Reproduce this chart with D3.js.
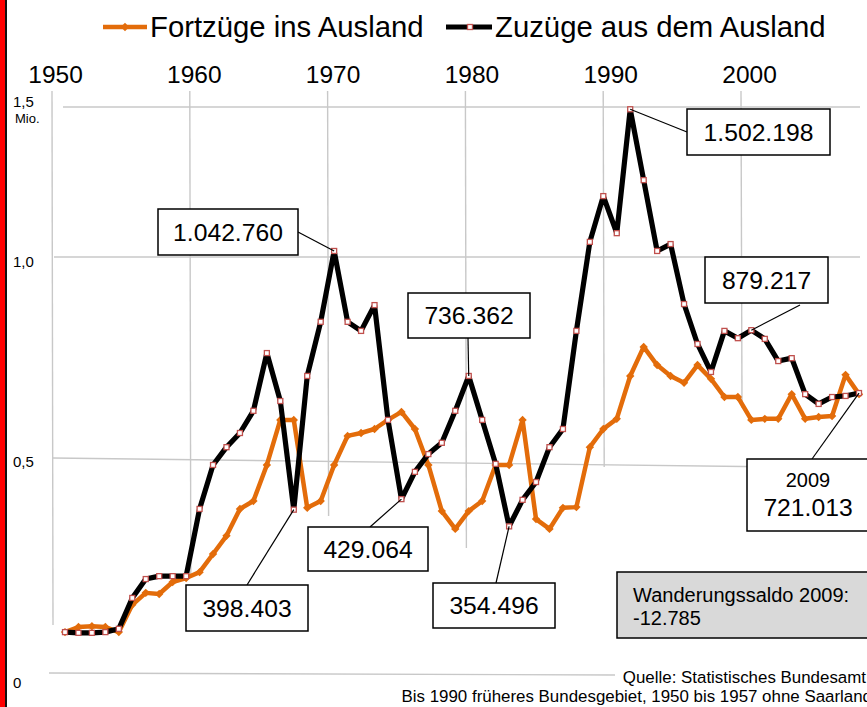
<!DOCTYPE html>
<html lang="de">
<head>
<meta charset="utf-8">
<script src="https://cdn.jsdelivr.net/npm/d3@7"></script>
<style>
  html, body { margin: 0; padding: 0; background: #fff; }
  svg { display: block; font-family: "Liberation Sans", Arial, sans-serif; }
</style>
</head>
<body>
<svg id="chart"></svg>
<script>
// Jahre 1950 bis 2009
const years = d3.range(1950, 2010);

// Wanderungen über die Grenzen Deutschlands, in Mio.
const zuzuege = [
  0.063, 0.061, 0.061, 0.063, 0.072, 0.157, 0.209, 0.217, 0.217, 0.217,
  0.402, 0.523, 0.572, 0.611, 0.672, 0.831, 0.699, 0.400, 0.768, 0.917,
  1.112, 0.917, 0.892, 0.963, 0.647, 0.429, 0.504, 0.553, 0.584, 0.672,
  0.768, 0.647, 0.526, 0.354, 0.427, 0.476, 0.572, 0.622, 0.892, 1.137,
  1.263, 1.161, 1.502, 1.307, 1.112, 1.131, 0.966, 0.856, 0.779, 0.892,
  0.872, 0.894, 0.870, 0.809, 0.817, 0.718, 0.691, 0.710, 0.713, 0.721,
];
const fortzuege = [
  0.063, 0.077, 0.079, 0.077, 0.063, 0.138, 0.171, 0.168, 0.201, 0.212,
  0.228, 0.278, 0.328, 0.402, 0.424, 0.523, 0.647, 0.647, 0.405, 0.424,
  0.523, 0.603, 0.611, 0.622, 0.647, 0.669, 0.622, 0.523, 0.396, 0.347,
  0.396, 0.424, 0.523, 0.523, 0.647, 0.374, 0.347, 0.405, 0.407, 0.572,
  0.622, 0.650, 0.768, 0.848, 0.798, 0.768, 0.749, 0.798, 0.760, 0.710,
  0.710, 0.647, 0.650, 0.650, 0.718, 0.650, 0.655, 0.658, 0.771, 0.718,
];

// Achsen
const yearTicks = [1950, 1960, 1970, 1980, 1990, 2000];
const valueTicks = [0, 0.5, 1.0, 1.5];
const valueLabels = ["0", "0,5", "1,0", "1,5"];

// Beschriftungen
const seriesNames = ["Fortzüge ins Ausland", "Zuzüge aus dem Ausland"];
const annotations = [
  { year: 1970, text: "1.042.760" },
  { year: 1992, text: "1.502.198" },
  { year: 1980, text: "736.362" },
  { year: 2001, text: "879.217" },
  { year: 1975, text: "429.064" },
  { year: 1967, text: "398.403" },
  { year: 1983, text: "354.496" },
];
const lastYear = { year: 2009, top: "2009", text: "721.013" };
const saldo = ["Wanderungssaldo 2009:", "-12.785"];
const sourceLines = [
  "Quelle: Statistisches Bundesamt",
  "Bis 1990 früheres Bundesgebiet, 1950 bis 1957 ohne Saarland",
];

const width = 867;
const height = 707;
const orange = "#e36c0a";
const gridColor = "#c8c8c8";

const svg = d3.select("#chart").attr("width", width).attr("height", height);

svg.append("rect").attr("width", width).attr("height", height).attr("fill", "#fff");
// Roter Rand links
svg.append("rect").attr("x", 0).attr("width", 5).attr("height", height).attr("fill", "#ff0000");
svg.append("rect").attr("x", 5).attr("width", 2).attr("height", height).attr("fill", "#111");

// Skalen für die Daten
const x = d3.scaleLinear().domain([1950, 2009]).range([65, 859]);
const y = d3.scaleLinear().domain([0, 1.5]).range([655, 110]);

// Skalen des (leicht verzerrten) Gitters
const xGrid = d3.scaleLinear().domain([1950, 2000]).range([52, 741]);
const yGrid = d3.scaleLinear().domain([0, 0.5, 1.0, 1.5]).range([673, 458, 257, 107]);
const hGridLayout = [
  { x1: 49, x2: 615, tilt: 2 },
  { x1: 53, x2: 860, tilt: 10 },
  { x1: 54, x2: 860, tilt: 0 },
  { x1: 63, x2: 860, tilt: 0 },
];
const vGridBottom = [625, 575, 516, 548, 467, 408];
const labelDy = [15, 9, 10, 0];

// Horizontale Gitterlinien
svg.append("g")
  .selectAll("line")
  .data(valueTicks)
  .join("line")
  .attr("x1", (d, i) => hGridLayout[i].x1)
  .attr("x2", (d, i) => hGridLayout[i].x2)
  .attr("y1", (d) => yGrid(d))
  .attr("y2", (d, i) => yGrid(d) + hGridLayout[i].tilt)
  .attr("stroke", gridColor)
  .attr("stroke-width", 1.4);

// Vertikale Gitterlinien
svg.append("g")
  .selectAll("line")
  .data(yearTicks)
  .join("line")
  .attr("x1", (d) => xGrid(d))
  .attr("x2", (d) => xGrid(d) + 1)
  .attr("y1", 91)
  .attr("y2", (d, i) => vGridBottom[i])
  .attr("stroke", gridColor)
  .attr("stroke-width", 1.4);

// Jahreszahlen oben
const xLabel = d3.scaleLinear().domain([1950, 2000]).range([55, 749]);
svg.append("g")
  .attr("transform", "translate(0, 86)")
  .call(d3.axisTop(xLabel).tickValues(yearTicks).tickSize(0).tickPadding(3).tickFormat(d3.format("d")))
  .call((g) => g.select(".domain").remove())
  .selectAll("text")
  .attr("font-family", "Liberation Sans, Arial, sans-serif")
  .attr("font-size", 24.5)
  .attr("fill", "#000");

// Werte links
svg.append("g")
  .selectAll("text")
  .data(valueTicks)
  .join("text")
  .attr("x", 13)
  .attr("y", (d, i) => yGrid(d) + labelDy[i])
  .attr("font-size", 15)
  .attr("fill", "#000")
  .text((d, i) => valueLabels[i]);
svg.append("text")
  .attr("x", 15)
  .attr("y", yGrid(1.5) + 16)
  .attr("font-size", 13)
  .text("Mio.");

// Liniengenerator
const line = d3.line()
  .x((d, i) => x(years[i]))
  .y((d) => y(d));

const diamond = "M0,-4.2L4.2,0L0,4.2L-4.2,0Z";

// Fortzüge (orange)
svg.append("path")
  .datum(fortzuege)
  .attr("fill", "none")
  .attr("stroke", orange)
  .attr("stroke-width", 4.5)
  .attr("stroke-linejoin", "round")
  .attr("d", line);
svg.append("g")
  .selectAll("path")
  .data(fortzuege)
  .join("path")
  .attr("transform", (d, i) => `translate(${x(years[i])},${y(d)})`)
  .attr("d", diamond)
  .attr("fill", orange);

// Zuzüge (schwarz)
svg.append("path")
  .datum(zuzuege)
  .attr("fill", "none")
  .attr("stroke", "#000")
  .attr("stroke-width", 5.2)
  .attr("stroke-linejoin", "round")
  .attr("d", line);
svg.append("g")
  .selectAll("rect")
  .data(zuzuege)
  .join("rect")
  .attr("x", (d, i) => x(years[i]) - 2.5)
  .attr("y", (d) => y(d) - 2.5)
  .attr("width", 5)
  .attr("height", 5)
  .attr("fill", "#fff")
  .attr("stroke", "#c0504d")
  .attr("stroke-width", 1.3);

// Legende
const legend = svg.append("g");
legend.append("line").attr("x1", 103).attr("x2", 147).attr("y1", 27).attr("y2", 27)
  .attr("stroke", orange).attr("stroke-width", 4.5);
legend.append("path").attr("transform", "translate(125,27)").attr("d", diamond).attr("fill", orange);
legend.append("text").attr("x", 150).attr("y", 37).attr("font-size", 29.3).text(seriesNames[0]);
legend.append("line").attr("x1", 446).attr("x2", 492).attr("y1", 27).attr("y2", 27)
  .attr("stroke", "#000").attr("stroke-width", 5.2);
legend.append("rect").attr("x", 467.5).attr("y", 24.5).attr("width", 5).attr("height", 5)
  .attr("fill", "#fff").attr("stroke", "#c0504d").attr("stroke-width", 1.3);
legend.append("text").attr("x", 495).attr("y", 37).attr("font-size", 29.3).text(seriesNames[1]);

// Lage der Beschriftungskästen
const boxes = [
  { x: 158, y: 209, w: 140, h: 46, lx: 298, ly: 232 },
  { x: 687, y: 109, w: 143, h: 46, lx: 687, ly: 132 },
  { x: 408, y: 293, w: 122, h: 45, lx: 468, ly: 338 },
  { x: 705, y: 257, w: 123, h: 46, lx: 800, ly: 305 },
  { x: 308, y: 527, w: 120, h: 44, lx: 370, ly: 527 },
  { x: 186, y: 585, w: 122, h: 46, lx: 247, ly: 585 },
  { x: 433, y: 583, w: 122, h: 45, lx: 496, ly: 583 },
];

const annoG = svg.append("g");
annotations.forEach((a, i) => {
  const b = boxes[i];
  const v = zuzuege[years.indexOf(a.year)];
  annoG.append("line")
    .attr("x1", x(a.year)).attr("y1", y(v))
    .attr("x2", b.lx).attr("y2", b.ly)
    .attr("stroke", "#000").attr("stroke-width", 1.2);
  annoG.append("rect")
    .attr("x", b.x).attr("y", b.y).attr("width", b.w).attr("height", b.h)
    .attr("fill", "#fff").attr("stroke", "#000").attr("stroke-width", 1.5);
  annoG.append("text")
    .attr("x", b.x + b.w / 2).attr("y", b.y + b.h / 2 + 8.7)
    .attr("text-anchor", "middle").attr("font-size", 24.7)
    .text(a.text);
});

// Letzter Wert 2009
const vLast = zuzuege[years.indexOf(lastYear.year)];
annoG.append("line")
  .attr("x1", x(lastYear.year)).attr("y1", y(vLast))
  .attr("x2", 812).attr("y2", 459)
  .attr("stroke", "#000").attr("stroke-width", 1.2);
annoG.append("rect")
  .attr("x", 747).attr("y", 459).attr("width", 140).attr("height", 72)
  .attr("fill", "#fff").attr("stroke", "#000").attr("stroke-width", 1.5);
annoG.append("text").attr("x", 808).attr("y", 487)
  .attr("text-anchor", "middle").attr("font-size", 20).text(lastYear.top);
annoG.append("text").attr("x", 808).attr("y", 516)
  .attr("text-anchor", "middle").attr("font-size", 24.7).text(lastYear.text);

// Wanderungssaldo
svg.append("rect")
  .attr("x", 617).attr("y", 572).attr("width", 270).attr("height", 66)
  .attr("fill", "#d9d9d9").attr("stroke", "#000").attr("stroke-width", 1.5);
svg.append("g")
  .selectAll("text")
  .data(saldo)
  .join("text")
  .attr("x", 633)
  .attr("y", (d, i) => 602 + i * 23)
  .attr("font-size", 20)
  .text((d) => d);

// Quelle
svg.append("g")
  .selectAll("text")
  .data(sourceLines)
  .join("text")
  .attr("x", (d, i) => (i === 0 ? 866 : 872))
  .attr("y", (d, i) => 683 + i * 19)
  .attr("text-anchor", "end")
  .attr("font-size", 16.9)
  .text((d) => d);
</script>
</body>
</html>
